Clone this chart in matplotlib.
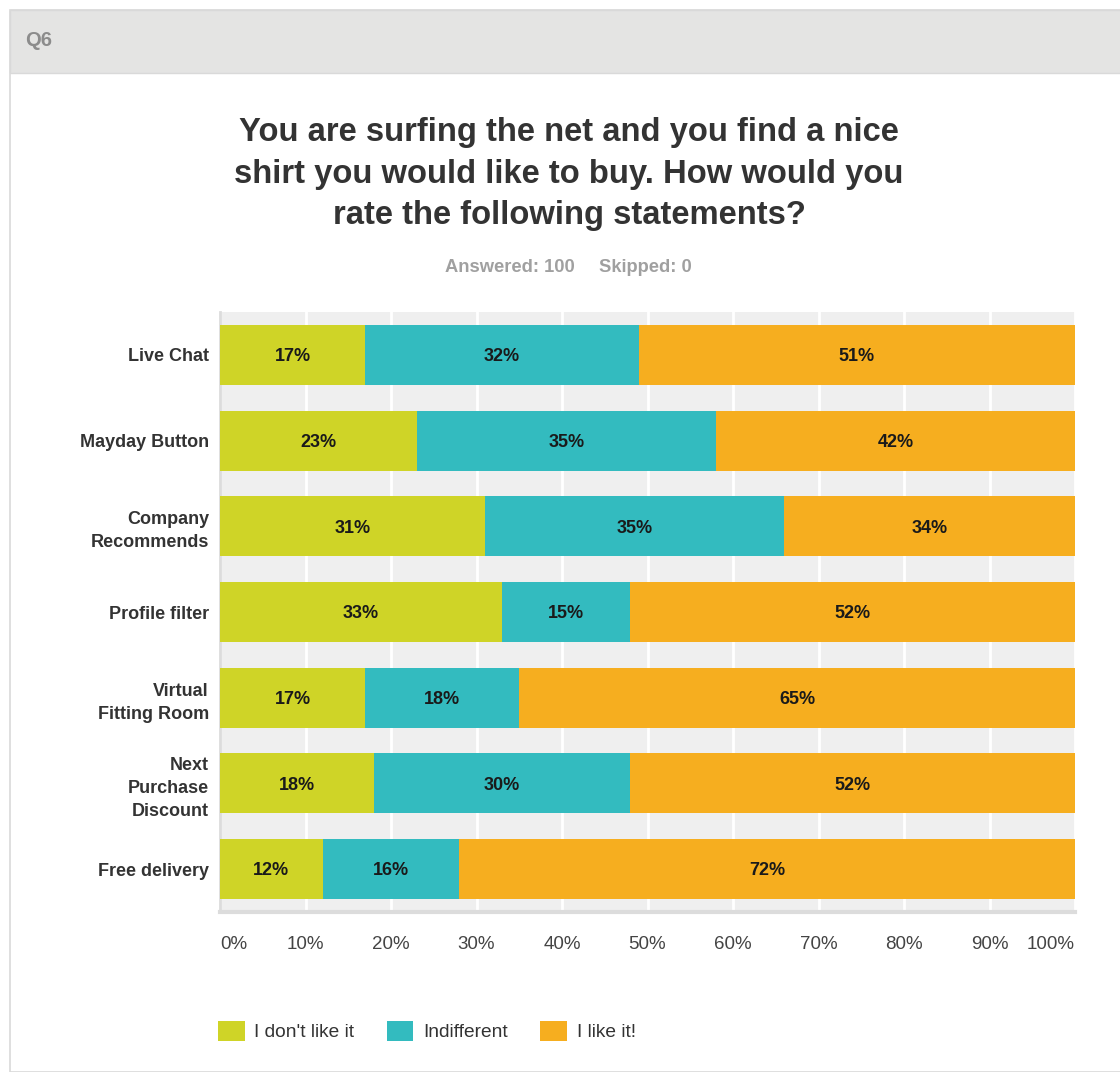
import matplotlib
matplotlib.use("Agg")
import matplotlib.pyplot as plt
from matplotlib.patches import Rectangle
import numpy as np

plt.rcParams['font.family'] = ['Liberation Sans', 'DejaVu Sans']

categories = ["Live Chat", "Mayday Button", "Company\nRecommends", "Profile filter",
              "Virtual\nFitting Room", "Next\nPurchase\nDiscount", "Free delivery"]
dont_like = [17, 23, 31, 33, 17, 18, 12]
indifferent = [32, 35, 35, 15, 18, 30, 16]
like = [51, 42, 34, 52, 65, 52, 72]
series_names = ["I don't like it", "Indifferent", "I like it!"]
series_colors = ["#cfd427", "#33bbbf", "#f6ae1f"]
tick_values = [0, 10, 20, 30, 40, 50, 60, 70, 80, 90, 100]
tick_labels = [f"{v}%" for v in tick_values]

title = "You are surfing the net and you find a nice\nshirt you would like to buy. How would you\nrate the following statements?"

W, H = 1120, 1072
fig = plt.figure(figsize=(W / 100, H / 100), dpi=100)
fig.patch.set_facecolor("white")

# card frame with grey header band
fig.add_artist(Rectangle((10 / W, 0), 1.0, 1 - 10 / H, transform=fig.transFigure,
                         facecolor="white", edgecolor="#d9d9d9", linewidth=1.2, zorder=0))
fig.add_artist(Rectangle((10 / W, 1 - 73 / H), 1.0, 63 / H, transform=fig.transFigure,
                         facecolor="#e4e4e3", edgecolor="#d9d9d9", linewidth=1.0, zorder=1))
fig.text(25 / W, 1 - 40 / H, "Q6", fontsize=14.5, fontweight="bold", color="#8c8c8c",
         ha="left", va="center")

fig.text(569 / W, 1 - 174 / H, title, fontsize=23.6, fontweight="bold", color="#333333",
         ha="center", va="center", linespacing=1.42)
fig.text(510 / W, 1 - 267 / H, "Answered: 100", fontsize=13.2, fontweight="bold",
         color="#a0a0a0", ha="center", va="center")
fig.text(645 / W, 1 - 267 / H, "Skipped: 0", fontsize=13.2, fontweight="bold",
         color="#a0a0a0", ha="center", va="center")

ax = fig.add_axes([220 / W, 1 - 912 / H, 855 / W, 600 / H])
ax.set_facecolor("#efefef")
y = np.arange(len(categories))
left = np.zeros(len(categories))
for vals, name, col in zip([dont_like, indifferent, like], series_names, series_colors):
    vals = np.array(vals, dtype=float)
    ax.barh(y, vals, left=left, height=0.70, color=col, label=name, zorder=3)
    for yi, l, v in zip(y, left, vals):
        ax.text(l + v / 2, yi + 0.02, f"{int(v)}%", ha="center", va="center",
                fontsize=13, fontweight="bold", color="#1a1a1a", zorder=4)
    left += vals

ax.set_xlim(0, 100)
ax.set_ylim(len(categories) - 0.5, -0.5)
ax.set_xticks(tick_values)
ax.set_xticklabels(tick_labels, fontsize=13.5, color="#444444")
for lbl, v in zip(ax.get_xticklabels(), tick_values):
    if v == 0:
        lbl.set_ha("left")
    elif v == 100:
        lbl.set_ha("right")
ax.tick_params(axis="x", length=0, pad=17)
ax.set_yticks(y)
ax.set_yticklabels(categories, fontsize=13, fontweight="bold", color="#333333",
                   linespacing=1.45)
ax.tick_params(axis="y", length=0, pad=8)
ax.grid(axis="x", color="white", linewidth=2, zorder=1)
ax.set_axisbelow(True)
for s in ["top", "right"]:
    ax.spines[s].set_visible(False)
ax.spines["left"].set_color("#dcdcdc")
ax.spines["left"].set_linewidth(2)
ax.spines["bottom"].set_color("#dcdcdc")
ax.spines["bottom"].set_linewidth(3)

handles, labels = ax.get_legend_handles_labels()
fig.legend(handles, labels, loc="center left", bbox_to_anchor=(210 / W, 1 - 1031 / H),
           ncol=3, frameon=False, fontsize=13.8, handlelength=1.4, handleheight=1.3,
           handletextpad=0.5, columnspacing=1.7, borderaxespad=0, labelcolor="#333333")

fig.savefig("out.png", dpi=100, facecolor="white")
